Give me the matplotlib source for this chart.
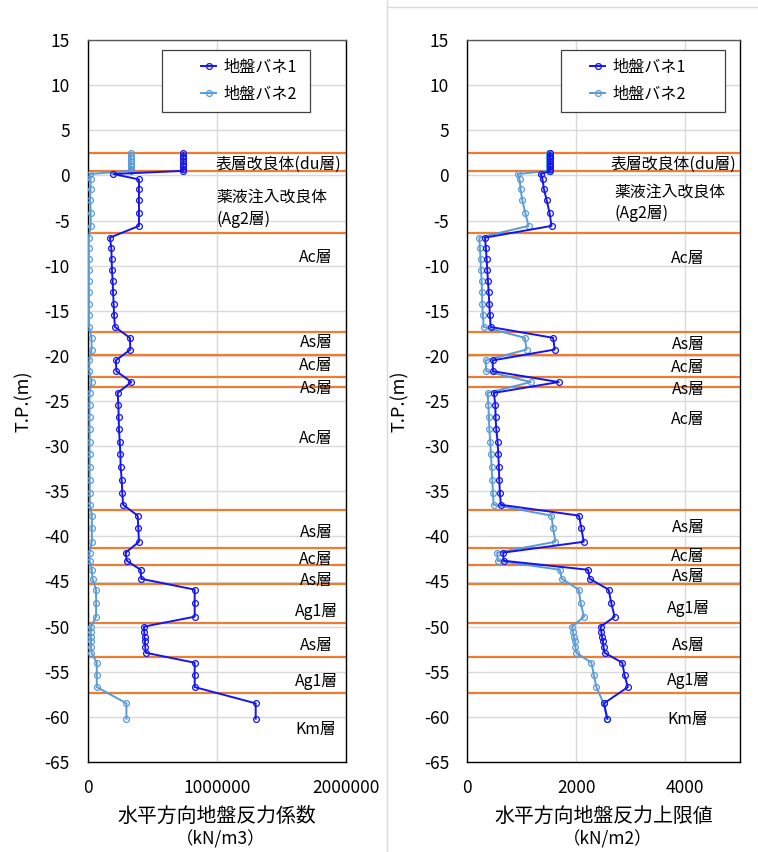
import matplotlib
matplotlib.use("Agg")
import matplotlib.pyplot as plt
from matplotlib.patches import Rectangle
from matplotlib.lines import Line2D

plt.rcParams["font.family"] = ["Noto Sans CJK JP", "DejaVu Sans"]

# ---- data -------------------------------------------------------------
# elevation of each evaluation point (T.P., m)
tp = [2.5, 2.2, 1.9, 1.6, 1.3, 1.0, 0.7, 0.5,
      0.15, -0.45, -1.5, -2.7, -4.2, -5.6,
      -6.9, -8.1, -9.3, -10.5, -11.7, -12.9, -14.2, -15.5, -16.8,
      -18.0, -19.3,
      -20.5, -21.7,
      -22.9,
      -24.1, -25.4, -26.8, -28.1, -29.5, -30.9, -32.3, -33.7, -35.2, -36.5,
      -37.7, -39.1, -40.6,
      -41.8, -42.7,
      -43.7, -44.7,
      -45.9, -47.4, -48.9,
      -50.0, -50.6, -51.1, -51.6, -52.3, -52.9,
      -54.0, -55.4, -56.7,
      -58.5, -60.2]

# horizontal subgrade reaction coefficient (kN/m3)
k_spring1 = [739000] * 8 + \
    [196000, 395000, 395000, 395000, 395000, 395000] + \
    [170000, 181000, 183000, 186000, 191000, 194000, 199000, 202000, 209000] + \
    [325000, 328000] + \
    [216000, 220000] + \
    [336000] + \
    [230000, 235000, 238000, 240000, 246000, 251000, 253000, 261000, 266000, 272000] + \
    [385000, 390000, 395000] + \
    [292000, 300000] + \
    [408000, 413000] + \
    [827000, 827000, 827000] + \
    [434000, 436000, 438000, 441000, 444000, 449000] + \
    [827000, 827000, 827000] + \
    [1300000, 1300000]

k_spring2 = [330000] * 8 + \
    [13000, 20000, 20000, 16000, 21000, 21000] + \
    [6000, 6000, 6000, 6000, 6000, 7000, 7000, 7000, 8000] + \
    [28000, 28000] + \
    [10000, 10000] + \
    [28000] + \
    [12000, 12000, 12000, 12000, 12000, 13000, 13000, 13000, 14000, 14000] + \
    [30000, 30000, 30000] + \
    [12000, 12000] + \
    [30000, 35000] + \
    [62000, 63000, 62000] + \
    [24000, 22000, 22000, 24000, 24000, 27000] + \
    [68000, 68000, 68000] + \
    [298000, 298000]

# upper limit of horizontal subgrade reaction (kN/m2)
q_spring1 = [1520] * 8 + \
    [1345, 1380, 1405, 1455, 1510, 1545] + \
    [324, 342, 355, 366, 379, 392, 403, 415, 428] + \
    [1574, 1605] + \
    [464, 470] + \
    [1678] + \
    [488, 513, 519, 531, 556, 568, 580, 586, 598, 617] + \
    [2050, 2093, 2136] + \
    [659, 666] + \
    [2215, 2245] + \
    [2593, 2642, 2703] + \
    [2447, 2459, 2471, 2489, 2502, 2520] + \
    [2844, 2886, 2946] + \
    [2508, 2569]

q_spring2 = [1490] * 8 + \
    [925, 960, 977, 1007, 1065, 1123] + \
    [220, 232, 245, 251, 263, 269, 275, 287, 300] + \
    [1056, 1087] + \
    [336, 348] + \
    [1166] + \
    [373, 385, 397, 403, 421, 434, 446, 458, 470, 483] + \
    [1544, 1574, 1617] + \
    [549, 556] + \
    [1697, 1733] + \
    [2044, 2081, 2141] + \
    [1922, 1940, 1953, 1971, 1984, 2002] + \
    [2277, 2324, 2368] + \
    [2500, 2569]

series_names = ["地盤バネ1", "地盤バネ2"]

# layer boundaries (T.P., m)
boundaries = [2.5, 0.5, -6.35, -17.4, -19.9, -22.3, -23.4, -37.05,
              -41.3, -43.2, -45.25, -49.65, -53.4, -57.4]

# layer names and the elevation at which each is written
layer_names = ["Ac層", "As層", "Ac層", "As層", "Ac層", "As層", "Ac層", "As層",
               "Ag1層", "As層", "Ag1層", "Km層"]
layer_y_left = [-9.07, -18.54, -21.12, -23.59, -29.13, -39.59, -42.54, -44.91,
                -48.34, -52.11, -56.1, -61.37]
layer_y_right = [-9.19, -18.79, -21.26, -23.78, -27.02, -39.04, -42.25, -44.47,
                 -47.97, -52.11, -56.02, -60.34]

y_ticks = list(range(-65, 16, 5))
x_ticks_left = [0, 1000000, 2000000]
x_ticks_right = [0, 2000, 4000]
x_ticklabels_left = ["0", "1000000", "2000000"]
x_ticklabels_right = ["0", "2000", "4000"]

# ---- styling ------------------------------------------------------------
W, H = 758, 852
C1 = "#1414F0"
C2 = "#5B9BD5"
ORANGE = "#ED7D31"
GRID = "#D9D9D9"

fig = plt.figure(figsize=(W / 100, H / 100), dpi=100)


def fx(px):
    return px / W


def fy(py):
    return 1 - py / H


# chart-area frames
fig.add_artist(Line2D([fx(387), fx(387)], [0, 1], color=GRID, lw=1))
fig.add_artist(Line2D([fx(387), fx(757)], [fy(7), fy(7)], color=GRID, lw=1))


def panel(ax, v1, v2, xmax, xticks, xticklabels, ytext, top_x, top_x2, mid_x,
          legend_box, legend_anchor):
    ax.set_xlim(0, xmax)
    ax.set_ylim(-65, 15)
    ax.set_yticks(y_ticks)
    ax.set_yticklabels([str(t) for t in y_ticks])
    ax.set_xticks(xticks)
    ax.set_xticklabels(xticklabels)
    ax.tick_params(length=0, labelsize=12.5, colors="#000000")
    ax.tick_params(axis="y", pad=13)
    ax.tick_params(axis="x", pad=12)
    ax.grid(True, color=GRID, lw=1)
    ax.set_axisbelow(True)
    for s in ["left", "bottom", "right"]:
        ax.spines[s].set_color("#000000")
        ax.spines[s].set_linewidth(1.0)
    ax.spines["top"].set_color("#595959")
    ax.spines["top"].set_linewidth(1.0)

    for b in boundaries:
        ax.axhline(b, color=ORANGE, lw=1.6, zorder=2)

    l1, = ax.plot(v1, tp, color=C1, lw=1.4, marker="o", ms=4.2, mfc="none",
                  mec=C1, mew=0.9, zorder=4, label=series_names[0])
    l2, = ax.plot(v2, tp, color=C2, lw=1.4, marker="o", ms=4.2, mfc="none",
                  mec=C2, mew=0.9, zorder=3, label=series_names[1])

    tr = ax.get_yaxis_transform()
    ax.text(top_x, 1.26, "表層改良体(du層)", transform=tr, fontsize=11.4,
            ha="left", va="center", zorder=5)
    ax.text(top_x2, ytext[0], "薬液注入改良体", transform=tr, fontsize=11.4,
            ha="left", va="center", zorder=5)
    ax.text(top_x2, ytext[1], "(Ag2層)", transform=tr, fontsize=11.4,
            ha="left", va="center", zorder=5)
    for name, y in zip(layer_names, ytext[2]):
        ax.text(mid_x, y, name, transform=tr, fontsize=11.4,
                ha="center", va="center", zorder=5)

    ax.set_ylabel("T.P.(m)", fontsize=13)
    ax.yaxis.set_label_coords(-0.215, 0.5)

    # legend frame and entries
    x0, y0, x1, y1 = legend_box
    ax.add_patch(Rectangle((fx(x0), fy(y1)), fx(x1) - fx(x0), fy(y0) - fy(y1),
                           transform=fig.transFigure, clip_on=False,
                           facecolor="white", edgecolor="#404040",
                           lw=0.9, zorder=6))
    leg = ax.legend(handles=[l1, l2], loc="upper left",
                    bbox_to_anchor=(fx(legend_anchor[0]), fy(legend_anchor[1])),
                    bbox_transform=fig.transFigure, frameon=False,
                    fontsize=11.6, handlelength=0.95, handletextpad=0.42,
                    borderpad=0, borderaxespad=0, labelspacing=0.62)
    leg.set_zorder(7)
    return ax


axL = fig.add_axes([fx(88), fy(762), fx(346) - fx(88), fy(40) - fy(762)])
panel(axL, k_spring1, k_spring2, 2000000, x_ticks_left, x_ticklabels_left,
      (-2.47, -4.86, layer_y_left), 0.496, 0.499, 0.884,
      (162, 50, 310, 112), (201, 59))

axR = fig.add_axes([fx(467.3), fy(762), fx(739.8) - fx(467.3), fy(40) - fy(762)])
panel(axR, q_spring1, q_spring2, 5000, x_ticks_right, x_ticklabels_right,
      (-1.81, -4.2, layer_y_right), 0.527, 0.539, 0.81,
      (561, 50, 725, 112), (590, 59))

# axis titles with units
fig.text(fx(217), fy(816.7), "水平方向地盤反力係数", fontsize=14.3,
         ha="center", va="center")
fig.text(fx(221), fy(839.5), "（kN/m3）", fontsize=12.5,
         ha="center", va="center")
fig.text(fx(604), fy(816.7), "水平方向地盤反力上限値", fontsize=14.3,
         ha="center", va="center")
fig.text(fx(608), fy(839.5), "（kN/m2）", fontsize=12.5,
         ha="center", va="center")

fig.savefig("out.png", dpi=100)
